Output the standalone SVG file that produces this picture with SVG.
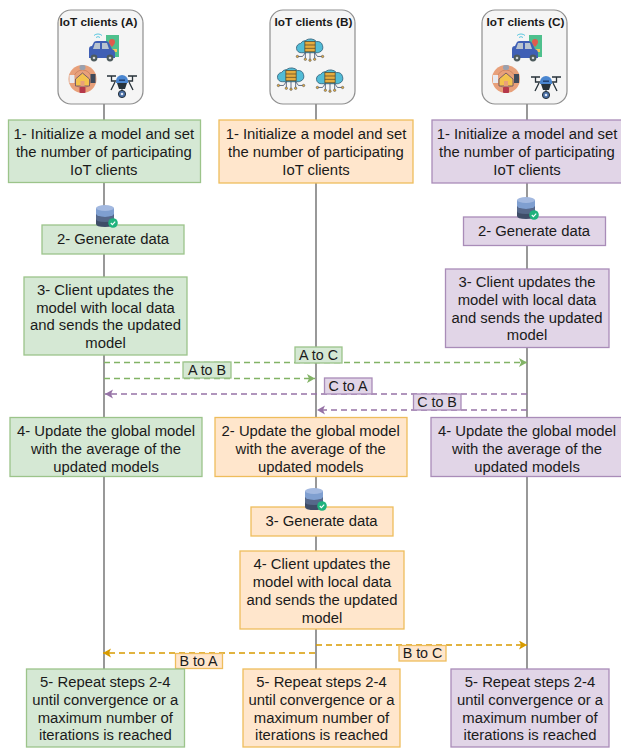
<svg xmlns="http://www.w3.org/2000/svg" xmlns:xlink="http://www.w3.org/1999/xlink" width="621" height="748" viewBox="0 0 621 748">
<style>
text{font-family:"Liberation Sans",Arial,sans-serif;font-size:14.85px;fill:#1a1a1a;text-anchor:middle}
.t{font-weight:bold;font-size:11.8px}
.l{font-size:14.3px}
.g{fill:#d5e8d4;stroke:#9cc48a;stroke-width:1.3}
.o{fill:#ffe6cc;stroke:#eebd5c;stroke-width:1.3}
.p{fill:#e1d5e7;stroke:#a98cb8;stroke-width:1.3}
.c{fill:#f5f5f5;stroke:#8f8f8f;stroke-width:1.2}
.life{stroke:#555;stroke-width:1.2;fill:none}
.ag,.ap,.ao{fill:none;stroke-width:1.7;stroke-dasharray:6 4}
.ag{stroke:#82b366;marker-end:url(#mg)}
.ap{stroke:#9673a6;marker-end:url(#mp)}
.ao{stroke:#d79b00;marker-end:url(#mo)}
</style>
<defs>
<marker id="mg" markerWidth="10" markerHeight="10" refX="8" refY="4.500" orient="auto" markerUnits="userSpaceOnUse"><path d="M0 0L8 4.500L0 9L2 4.500Z" fill="#82b366"/></marker>
<marker id="mp" markerWidth="10" markerHeight="10" refX="8" refY="4.500" orient="auto" markerUnits="userSpaceOnUse"><path d="M0 0L8 4.500L0 9L2 4.500Z" fill="#9673a6"/></marker>
<marker id="mo" markerWidth="10" markerHeight="10" refX="8" refY="4.500" orient="auto" markerUnits="userSpaceOnUse"><path d="M0 0L8 4.500L0 9L2 4.500Z" fill="#d79b00"/></marker>
<symbol id="car" viewBox="0 0 32 30" width="32" height="30" overflow="visible">
<rect x="18" y="1" width="13" height="22" fill="#4fc08d"/><path d="M24 5a3 3 0 0 1 3 3c0 2-3 5-3 5s-3-3-3-5a3 3 0 0 1 3-3z" fill="#e05a4e"/><rect x="20" y="15" width="9" height="3" fill="#f4c95d"/>
<path d="M6 1.500a6 6 0 0 1 8 0M8 3.500a3 3 0 0 1 4 0" fill="none" stroke="#5cc8e0" stroke-width="1"/>
<path d="M1 24V15q0-3 3-3l2-4q1-1 3-1h9q2 0 3 2l3 6q3 1 3 4v5z" fill="#3f5fb5"/><path d="M7 9h5v6H5zM14 9h5l2 6h-7z" fill="#b9c4cf"/>
<circle cx="6" cy="24" r="3.400" fill="#4d5a5c"/><circle cx="6" cy="24" r="1.300" fill="#cfd5d5"/><circle cx="22" cy="24" r="3.400" fill="#4d5a5c"/><circle cx="22" cy="24" r="1.300" fill="#cfd5d5"/>
</symbol>
<symbol id="home" viewBox="0 0 30 30" width="30" height="30" overflow="visible">
<circle cx="15" cy="15" r="14" fill="#e8a07a"/><circle cx="15" cy="15" r="9" fill="none" stroke="#c9805f" stroke-width=".8"/>
<path d="M8 15l7-6 7 6v7H8z" fill="#f3c24e" stroke="#5a4a6a" stroke-width=".8"/><rect x="13" y="17" width="4" height="5" fill="#e8a07a"/>
<rect x="12" y="1" width="6" height="5" rx="2" fill="#9aa0ae"/><rect x="2" y="11" width="5" height="8" fill="#e8eaf0"/><rect x="23" y="10" width="5" height="9" fill="#3f4a5c"/><rect x="12" y="23" width="6" height="6" rx="1" fill="#b5384a"/>
</symbol>
<symbol id="drone" viewBox="0 0 30 24" width="30" height="24" overflow="visible">
<path d="M0 2h9M21 2h9M4.500 2v5h21V2M8 8l-4 8M22 8l4 8" fill="none" stroke="#27323a" stroke-width="1.300"/>
<path d="M9 7a6 6 0 0 1 12 0v2H9z" fill="#4a86d0"/><rect x="12" y="5.500" width="6" height="1.400" fill="#1f3e70"/>
<path d="M10 9h10l-2 6h-6z" fill="#27323a"/><path d="M15 15v3" stroke="#27323a"/>
<circle cx="15" cy="20" r="3.600" fill="#4a6fa5" stroke="#27323a"/><circle cx="15" cy="20" r="1.300" fill="#dfe7f2"/>
</symbol>
<symbol id="cloud" viewBox="0 0 30 28" width="28" height="28" overflow="visible">
<path d="M6 18a5 5 0 0 1-1-10a6 6 0 0 1 5-3a9 9 0 0 1 12 1a6 6 0 0 1 3 11.500q-1 .500-2 .500z" fill="#52bcd6" stroke="#26536e" stroke-width=".8"/>
<rect x="9.500" y="6" width="11" height="11" fill="#e6ac3e" stroke="#4a3a20" stroke-width=".7"/>
<path d="M9.500 9.700h11M9.500 13.300h11" stroke="#4a3a20" stroke-width=".7"/>
<path d="M1 22h6l3-4M29 22h-6l-3-4M15 18v7M10 18v6M20 18v6" fill="none" stroke="#2f4060" stroke-width=".8"/>
<g fill="#e6ac3e" stroke="#2f4060" stroke-width=".5"><circle cx="1.500" cy="22" r="1.300"/><circle cx="28.500" cy="22" r="1.300"/><circle cx="15" cy="26" r="1.300"/><circle cx="10" cy="25" r="1.300"/><circle cx="20" cy="25" r="1.300"/></g>
</symbol>
<symbol id="db" viewBox="0 0 24 24" width="24" height="24" overflow="visible">
<path d="M1 3v16q0 3 9 3t9-3V3z" fill="#3f4d68"/><path d="M1 3v6q0 3 9 3t9-3V3z" fill="#7f9fd0"/><path d="M1 9v5q0 3 9 3t9-3V9q0 3-9 3t-9-3z" fill="#56688a"/>
<ellipse cx="10" cy="3" rx="9" ry="3" fill="#a3b9e0"/>
<circle cx="18" cy="18" r="4.800" fill="#20b27d"/><path d="M15.800 18l1.600 1.600 2.800-3" fill="none" stroke="#fff" stroke-width="1.100"/>
</symbol>
</defs>
<rect width="621" height="748" fill="#fff"/>
<g id="lifelines">
<path class="life" d="M104 104V670M316 104V669M527 104V670"/>
</g>
<g id="clientA"><rect class="c" x="58" y="10" width="85" height="94" rx="13"/><text class="t" x="98.500" y="26">IoT clients (A)</text><use xlink:href="#car" href="#car" x="88" y="34"/><use xlink:href="#home" href="#home" x="67.500" y="64"/><use xlink:href="#drone" href="#drone" x="107" y="74"/></g>
<g id="clientB"><rect class="c" x="270" y="10" width="85" height="94" rx="13"/><text class="t" x="313.500" y="26">IoT clients (B)</text><use xlink:href="#cloud" href="#cloud" x="296" y="35"/><use xlink:href="#cloud" href="#cloud" x="277" y="64"/><use xlink:href="#cloud" href="#cloud" x="316" y="66"/></g>
<g id="clientC"><rect class="c" x="482" y="10" width="85" height="94" rx="13"/><text class="t" x="525.500" y="26">IoT clients (C)</text><use xlink:href="#car" href="#car" x="511" y="34"/><use xlink:href="#home" href="#home" x="491" y="64"/><use xlink:href="#drone" href="#drone" x="531" y="75"/></g>
<g id="a1"><rect class="g" x="8.500" y="120" width="192" height="62.500"/><text x="103.800" y="139">1- Initialize a model and set</text><text x="103.800" y="157">the number of participating</text><text x="103.800" y="175">IoT clients</text></g>
<g id="b1"><rect class="o" x="219" y="120" width="194" height="63"/><text x="316" y="139">1- Initialize a model and set</text><text x="316" y="157">the number of participating</text><text x="316" y="175">IoT clients</text></g>
<g id="c1"><rect class="p" x="432" y="120" width="190" height="63"/><text x="527" y="139">1- Initialize a model and set</text><text x="527" y="157">the number of participating</text><text x="527" y="175">IoT clients</text></g>
<g id="a2"><rect class="g" x="42" y="225" width="142" height="29"/><text x="113" y="244">2- Generate data</text></g>
<g id="c2"><rect class="p" x="463.500" y="217" width="142" height="28.500"/><text x="534" y="235.500">2- Generate data</text></g>
<g id="dbA"><use xlink:href="#db" href="#db" x="95" y="205"/></g>
<g id="dbC"><use xlink:href="#db" href="#db" x="516" y="197"/></g>
<g id="a3"><rect class="g" x="24" y="277" width="163" height="78"/><text x="105.500" y="295">3- Client updates the</text><text x="105.500" y="312.700">model with local data</text><text x="105.500" y="330.400">and sends the updated</text><text x="105.500" y="348">model</text></g>
<g id="c3"><rect class="p" x="445.500" y="269" width="163.500" height="78.500"/><text x="527" y="287.300">3- Client updates the</text><text x="527" y="304.900">model with local data</text><text x="527" y="322.500">and sends the updated</text><text x="527" y="340">model</text></g>
<g id="connectors">
<path class="ag" d="M104 362.500H527"/>
<path class="ag" d="M104 378.500H315"/>
<path class="ap" d="M527 394H105"/>
<path class="ap" d="M527 410H317"/>
<path class="ao" d="M316 645H527"/>
<path class="ao" d="M315 653H103"/>
</g>
<g id="lAC"><rect class="g" x="295" y="347" width="47" height="16"/><text class="l" x="318.500" y="360">A to C</text></g>
<g id="lAB"><rect class="g" x="183" y="362" width="48" height="16"/><text class="l" x="207" y="375">A to B</text></g>
<g id="lCA"><rect class="p" x="324.500" y="378" width="47.500" height="16"/><text class="l" x="348" y="391">C to A</text></g>
<g id="lCB"><rect class="p" x="413.500" y="394" width="47.500" height="16"/><text class="l" x="437" y="407">C to B</text></g>
<g id="a4"><rect class="g" x="10" y="417.500" width="192" height="59"/><text x="106" y="436">4- Update the global model</text><text x="106" y="454">with the average of the</text><text x="106" y="472">updated models</text></g>
<g id="b2"><rect class="o" x="215" y="417.500" width="192" height="59"/><text x="310.700" y="436">2- Update the global model</text><text x="310.700" y="454">with the average of the</text><text x="310.700" y="472">updated models</text></g>
<g id="c4"><rect class="p" x="431" y="417.500" width="191" height="59"/><text x="527" y="436">4- Update the global model</text><text x="527" y="454">with the average of the</text><text x="527" y="472">updated models</text></g>
<g id="b3"><rect class="o" x="251" y="507" width="142" height="29"/><text x="321.500" y="526">3- Generate data</text></g>
<g id="dbB"><use xlink:href="#db" href="#db" x="304" y="488"/></g>
<g id="b4"><rect class="o" x="240" y="551" width="164" height="78"/><text x="322" y="569">4- Client updates the</text><text x="322" y="587">model with local data</text><text x="322" y="605">and sends the updated</text><text x="322" y="623">model</text></g>
<g id="lBA"><rect class="o" x="175.500" y="653.500" width="47" height="15"/><text class="l" x="198.500" y="666">B to A</text></g>
<g id="lBC"><rect class="o" x="399" y="645.500" width="47" height="15.500"/><text class="l" x="422.500" y="658">B to C</text></g>
<g id="a5"><rect class="g" x="26.500" y="669" width="158" height="78"/><text x="105.300" y="687">5- Repeat steps 2-4</text><text x="105.300" y="705">until convergence or a</text><text x="105.300" y="722.500">maximum number of</text><text x="105.300" y="740">iterations is reached</text></g>
<g id="b5"><rect class="o" x="243" y="669" width="157" height="78"/><text x="321.500" y="687">5- Repeat steps 2-4</text><text x="321.500" y="705">until convergence or a</text><text x="321.500" y="722.500">maximum number of</text><text x="321.500" y="740">iterations is reached</text></g>
<g id="c5"><rect class="p" x="451" y="669" width="158" height="78"/><text x="530" y="687">5- Repeat steps 2-4</text><text x="530" y="705">until convergence or a</text><text x="530" y="722.500">maximum number of</text><text x="530" y="740">iterations is reached</text></g>
</svg>
